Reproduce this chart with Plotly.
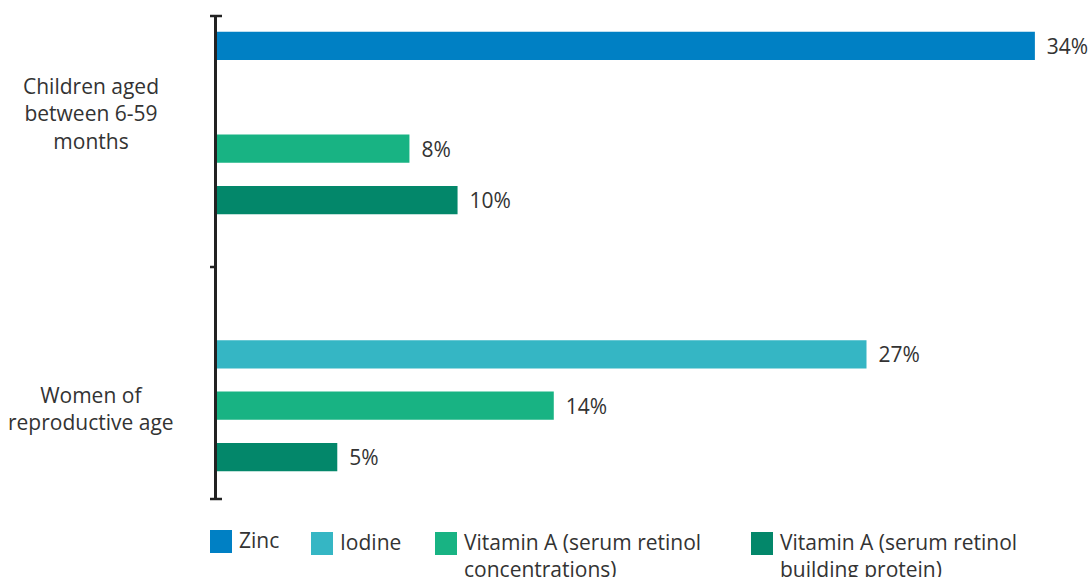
import plotly.graph_objects as go

categories = ["Children aged between 6-59 months", "Women of reproductive age"]
category_labels = ["Children aged<br>between 6-59<br>months", "Women of<br>reproductive age"]
series_names = [
    "Zinc",
    "Iodine",
    "Vitamin A (serum retinol<br>concentrations)",
    "Vitamin A (serum retinol<br>building protein)",
]
zinc = [34, None]
iodine = [None, 27]
vita_conc = [8, 14]
vita_rbp = [10, 5]
series_values = [zinc, iodine, vita_conc, vita_rbp]
colors = ["#0080c4", "#35b6c4", "#18b383", "#03876a"]

FONT = "Open Sans"
TEXT = "#333333"
FS = 21

# the page body margin is removed (see post_script), so the figure fills the window
OFF = 0
W, H = 1089 - OFF, 577 - OFF
# plot area in screen pixels
SL, ST, SB, SR = 217, 16, 499, 1083
L, T = SL - OFF, ST - OFF
B = H - (SB - OFF)
R = W - (SR - OFF)
PW, PH = W - L - R, H - T - B


def px(xs):
    return (xs - OFF - L) / PW


def py(ys):
    return (H - B - (ys - OFF)) / PH


fig = go.Figure()
for name, vals, col in zip(series_names, series_values, colors):
    fig.add_trace(go.Bar(
        y=categories, x=vals, name=name, orientation="h",
        marker=dict(color=col, line=dict(width=0)),
        text=[(" \u2009%d%%" % v) if v is not None else "" for v in vals],
        textposition="outside", cliponaxis=False,
        textfont=dict(family=FONT, size=FS, color=TEXT),
        showlegend=False,
    ))

# category labels (centered, as in the reference)
shifts = [9, -29]
for cat, lab, sh in zip(categories, category_labels, shifts):
    fig.add_annotation(x=px(91), xref="paper", y=cat, yref="y", yshift=sh,
                       text=lab, showarrow=False, xanchor="center", yanchor="middle",
                       align="center", font=dict(family=FONT, size=FS, color=TEXT))

# axis end caps and middle tick
for yy, x0, x1 in [(py(16), px(210), px(222)), (py(499), px(210), px(222)),
                   (py(267), px(210), px(215))]:
    fig.add_shape(type="line", xref="paper", yref="paper", x0=x0, x1=x1, y0=yy, y1=yy,
                  line=dict(color="#222222", width=2.5))

# legend (squares + labels), laid out like the reference
legend_sq_x = [210, 311, 435, 751]
legend_sq_y = [530, 532, 532, 532]
for name, col, sx, sy in zip(series_names, colors, legend_sq_x, legend_sq_y):
    fig.add_shape(type="rect", xref="paper", yref="paper",
                  x0=px(sx), x1=px(sx + 22), y0=py(sy), y1=py(sy + 23),
                  fillcolor=col, line=dict(width=0))
    fig.add_annotation(x=px(sx + 27), xref="paper", y=py(sy - 6), yref="paper",
                       text=name, showarrow=False, xanchor="left", yanchor="top",
                       align="left", font=dict(family=FONT, size=FS, color=TEXT))

fig.update_layout(
    width=W, height=H,
    margin=dict(l=L, r=R, t=T, b=B, autoexpand=False),
    paper_bgcolor="white", plot_bgcolor="white",
    barmode="group", bargap=0.2, bargroupgap=0.45,
    font=dict(family=FONT, size=FS, color=TEXT),
    showlegend=False,
    xaxis=dict(range=[0, 36], visible=False, fixedrange=True),
    yaxis=dict(categoryorder="array", categoryarray=categories,
               range=[1.463, -0.416], showticklabels=False, ticks="",
               showline=True, linecolor="#222222", linewidth=3,
               showgrid=False, zeroline=False, fixedrange=True),
)

fig.write_html("out.html", config={"displayModeBar": False},
               post_script="document.body.style.margin='0';document.body.style.overflow='hidden';")
